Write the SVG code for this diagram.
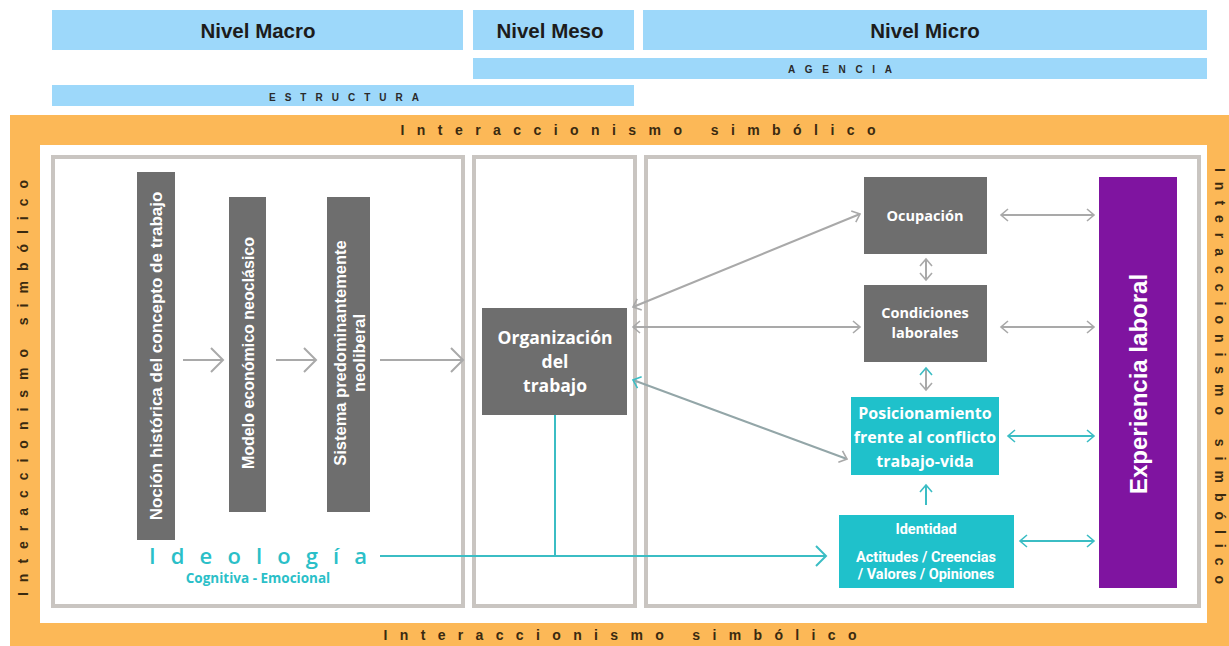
<svg xmlns="http://www.w3.org/2000/svg" width="1229" height="646" viewBox="0 0 1229 646">
  <style>
    .band { fill: #9dd8fa; }
    .lvl { font-family: "Liberation Sans", Arial, sans-serif; font-weight: bold; font-size: 20.5px; fill: #1c1c1c; text-anchor: middle; dominant-baseline: central; }
    .tag { font-family: "Liberation Sans", Arial, sans-serif; font-weight: bold; font-size: 10px; fill: #2a2a2a; text-anchor: middle; dominant-baseline: central; }
    .frame { font-family: "Liberation Sans", Arial, sans-serif; font-weight: bold; font-size: 14px; fill: #3a2a10; text-anchor: middle; dominant-baseline: central; }
    .panel { fill: none; stroke: #c9c5c1; stroke-width: 4; }
    .dark { fill: #6e6e6e; }
    .teal { fill: #1fc1cb; }
    .purple { fill: #7f14a0; }
    .bar { font-family: "Liberation Sans", Arial, sans-serif; font-weight: bold; fill: #ffffff; text-anchor: middle; dominant-baseline: central; }
    .box { font-family: "Open Sans", "Liberation Sans", sans-serif; font-weight: bold; fill: #ffffff; text-anchor: middle; dominant-baseline: central; }
    .small { font-family: Roboto, "Liberation Sans", sans-serif; font-weight: bold; font-size: 14.5px; fill: #ffffff; text-anchor: middle; dominant-baseline: central; }
    .ideo { font-family: "Open Sans", "Liberation Sans", sans-serif; fill: #2bbfc8; text-anchor: middle; dominant-baseline: central; }
    .g { stroke: #a9a9a9; stroke-width: 2; fill: none; }
    .t { stroke: #3bbdc4; stroke-width: 2; fill: none; }
  </style>
  <defs>
    <marker id="bigG" markerUnits="userSpaceOnUse" markerWidth="16" markerHeight="28" refX="13" refY="13" orient="auto">
      <path d="M1,1 L13,13 L1,25" fill="none" stroke="#a9a9a9" stroke-width="2"/>
    </marker>
    <marker id="arrG" markerUnits="userSpaceOnUse" markerWidth="10" markerHeight="14" refX="8" refY="7" orient="auto-start-reverse">
      <path d="M1,1 L8,7 L1,13" fill="none" stroke="#a9a9a9" stroke-width="1.6"/>
    </marker>
    <marker id="arrT" markerUnits="userSpaceOnUse" markerWidth="10" markerHeight="14" refX="8" refY="7" orient="auto-start-reverse">
      <path d="M1,1 L8,7 L1,13" fill="none" stroke="#3bbdc4" stroke-width="1.6"/>
    </marker>
    <marker id="bigT" markerUnits="userSpaceOnUse" markerWidth="14" markerHeight="22" refX="11" refY="11" orient="auto-start-reverse">
      <path d="M1,1 L11,11 L1,21" fill="none" stroke="#3bbdc4" stroke-width="2"/>
    </marker>
  </defs>

  <rect width="1229" height="646" fill="#ffffff"/>

  <!-- level headers -->
  <g id="levels">
    <rect class="band" x="52" y="10" width="411" height="40"/>
    <text class="lvl" x="258" y="30">Nivel Macro</text>
    <rect class="band" x="473" y="10" width="161" height="40"/>
    <text class="lvl" x="550" y="30">Nivel Meso</text>
    <rect class="band" x="643" y="10" width="564" height="40"/>
    <text class="lvl" x="925" y="30">Nivel Micro</text>
    <rect class="band" x="473" y="58" width="734" height="21"/>
    <text class="tag" x="840" y="69" textLength="104" lengthAdjust="spacing">AGENCIA</text>
    <rect class="band" x="52" y="85" width="582" height="21"/>
    <text class="tag" x="344" y="97" textLength="150" lengthAdjust="spacing">ESTRUCTURA</text>
  </g>

  <!-- symbolic interactionism frame -->
  <g id="frame">
    <rect x="10" y="115" width="1219" height="531" fill="#fcb857"/>
    <rect x="40" y="145" width="1167" height="478" fill="#ffffff"/>
    <text class="frame" x="638" y="130" textLength="475" lengthAdjust="spacing">Interaccionismo  simbólico</text>
    <text class="frame" x="620" y="635" textLength="473" lengthAdjust="spacing">Interaccionismo  simbólico</text>
    <text class="frame" transform="translate(23,388) rotate(-90)" textLength="416" lengthAdjust="spacing">Interaccionismo  simbólico</text>
    <text class="frame" transform="translate(1220,376) rotate(90)" textLength="416" lengthAdjust="spacing">Interaccionismo  simbólico</text>
  </g>

  <!-- level panels -->
  <g id="panels">
    <rect class="panel" x="53" y="157" width="410" height="449"/>
    <rect class="panel" x="474" y="157" width="161" height="449"/>
    <rect class="panel" x="646" y="157" width="553" height="449"/>
  </g>

  <g id="nocion">
    <rect class="dark" x="137" y="172" width="38" height="368"/>
    <text class="bar" font-size="17" transform="translate(156,356) rotate(-90)">Noción histórica del concepto de trabajo</text>
  </g>
  <g id="modelo">
    <rect class="dark" x="229" y="197" width="37" height="315"/>
    <text class="bar" font-size="16" transform="translate(248,353) rotate(-90)">Modelo económico neoclásico</text>
  </g>
  <g id="sistema">
    <rect class="dark" x="327" y="197" width="43" height="315"/>
    <text class="bar" font-size="16.5" transform="translate(340,353) rotate(-90)">Sistema predominantemente</text>
    <text class="bar" font-size="16.5" transform="translate(359,353) rotate(-90)">neoliberal</text>
  </g>

  <g id="ideologia">
    <text class="ideo" x="258" y="555" font-size="22" font-weight="600" textLength="218" lengthAdjust="spacing">Ideología</text>
    <text class="ideo" x="258" y="578" font-size="13.5" font-weight="bold">Cognitiva - Emocional</text>
  </g>

  <g id="organizacion">
    <rect class="dark" x="482" y="308" width="145" height="107"/>
    <text class="box" font-size="17.5" x="555" y="337">Organización</text>
    <text class="box" font-size="17.5" x="555" y="361">del</text>
    <text class="box" font-size="17.5" x="555" y="385">trabajo</text>
  </g>

  <g id="ocupacion">
    <rect class="dark" x="864" y="177" width="123" height="77"/>
    <text class="box" font-size="14.5" x="925" y="215">Ocupación</text>
  </g>
  <g id="condiciones">
    <rect class="dark" x="864" y="285" width="123" height="77"/>
    <text class="box" font-size="14.5" x="925" y="312">Condiciones</text>
    <text class="box" font-size="14.5" x="925" y="332">laborales</text>
  </g>
  <g id="posicionamiento">
    <rect class="teal" x="851" y="397" width="148" height="78"/>
    <text class="box" font-size="16" x="925" y="413">Posicionamiento</text>
    <text class="box" font-size="16" x="925" y="437">frente al conflicto</text>
    <text class="box" font-size="16" x="925" y="461">trabajo-vida</text>
  </g>
  <g id="identidad">
    <rect class="teal" x="839" y="515" width="175" height="73"/>
    <text class="small" x="926" y="529">Identidad</text>
    <text class="small" x="926" y="557">Actitudes / Creencias</text>
    <text class="small" x="926" y="574">/ Valores / Opiniones</text>
  </g>
  <g id="experiencia">
    <rect class="purple" x="1099" y="177" width="78" height="411"/>
    <text class="bar" font-size="24" transform="translate(1138,384) rotate(-90)">Experiencia laboral</text>
  </g>

  <!-- connectors -->
  <g id="connectors">
    <line class="g" x1="183" y1="360" x2="223" y2="360" marker-end="url(#bigG)"/>
    <line class="g" x1="276" y1="360" x2="316" y2="360" marker-end="url(#bigG)"/>
    <line class="g" x1="380" y1="360" x2="463" y2="360" marker-end="url(#bigG)"/>

    <line class="g" x1="633" y1="307" x2="860" y2="214" marker-start="url(#arrG)" marker-end="url(#arrG)"/>
    <line class="g" x1="633" y1="327" x2="860" y2="327" marker-start="url(#arrG)" marker-end="url(#arrG)"/>
    <line x1="633" y1="380" x2="847" y2="459" stroke="#93a6a8" stroke-width="2" marker-start="url(#arrT)" marker-end="url(#arrG)"/>

    <line class="g" x1="926" y1="259" x2="926" y2="280" marker-start="url(#arrG)" marker-end="url(#arrG)"/>
    <line class="g" x1="926" y1="368" x2="926" y2="390" marker-start="url(#arrT)" marker-end="url(#arrG)"/>

    <line class="g" x1="1001" y1="215" x2="1094" y2="215" marker-start="url(#arrG)" marker-end="url(#arrG)"/>
    <line class="g" x1="1001" y1="327" x2="1094" y2="327" marker-start="url(#arrG)" marker-end="url(#arrG)"/>
    <line class="t" x1="1008" y1="436" x2="1094" y2="436" marker-start="url(#arrT)" marker-end="url(#arrT)"/>
    <line class="t" x1="1020" y1="541" x2="1094" y2="541" marker-start="url(#arrT)" marker-end="url(#arrT)"/>

    <line class="t" x1="926" y1="505" x2="926" y2="485" marker-end="url(#arrT)"/>

    <line class="t" x1="555" y1="415" x2="555" y2="556"/>
    <line class="t" x1="380" y1="556" x2="826" y2="556" marker-end="url(#bigT)"/>
  </g>
</svg>
